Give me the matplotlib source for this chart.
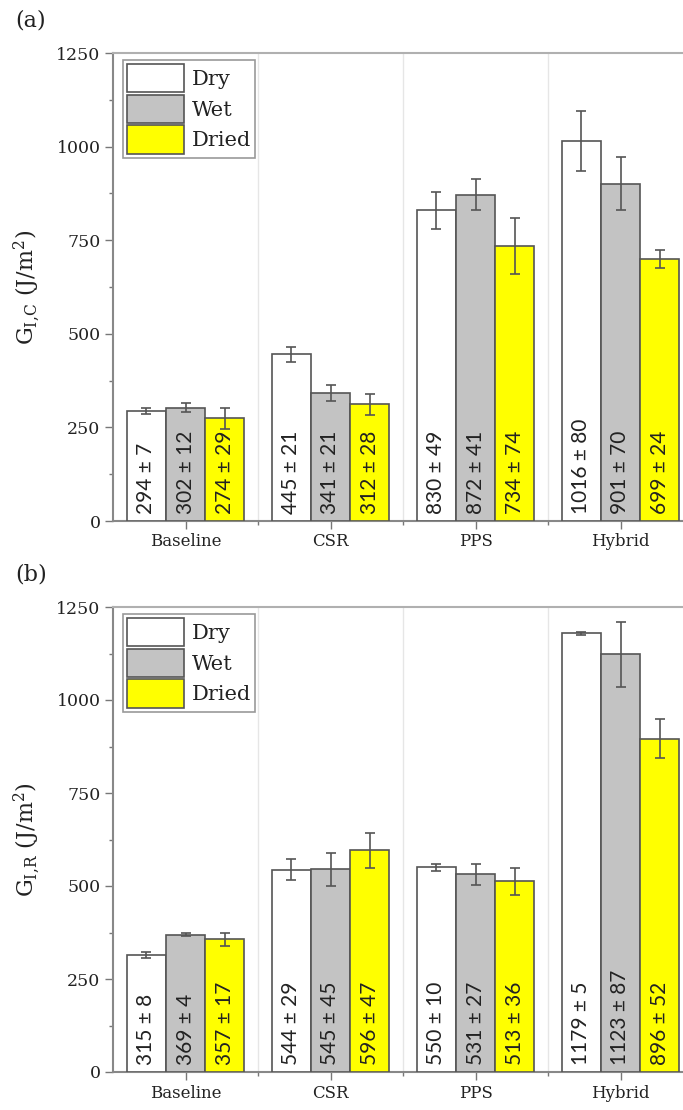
import matplotlib
matplotlib.use("Agg")
import matplotlib.pyplot as plt
import numpy as np
from matplotlib.patches import Patch

categories = ["Baseline", "CSR", "PPS", "Hybrid"]
conditions = ["Dry", "Wet", "Dried"]

gic_mean = {"Dry": [294, 445, 830, 1016], "Wet": [302, 341, 872, 901], "Dried": [274, 312, 734, 699]}
gic_err = {"Dry": [7, 21, 49, 80], "Wet": [12, 21, 41, 70], "Dried": [29, 28, 74, 24]}

gir_mean = {"Dry": [315, 544, 550, 1179], "Wet": [369, 545, 531, 1123], "Dried": [357, 596, 513, 896]}
gir_err = {"Dry": [8, 29, 10, 5], "Wet": [4, 45, 27, 87], "Dried": [17, 47, 36, 52]}

yticks = [0, 250, 500, 750, 1000, 1250]

colors = {"Dry": "#ffffff", "Wet": "#c3c3c3", "Dried": "#ffff00"}

plt.rcParams['mathtext.fontset'] = 'dejavuserif'
serif = "DejaVu Serif"
sans = "Lato"

W, H = 683, 1110
fig = plt.figure(figsize=(W / 100, H / 100), dpi=100)

def px(l, t, r, b):
    return [l / W, 1 - b / H, (r - l) / W, (b - t) / H]

panels = [
    (px(113, 53, 683, 521), gic_mean, gic_err, r"G$_{\mathrm{I,\!C}}$ (J/m$^2$)", "(a)", 20),
    (px(113, 607, 683, 1072), gir_mean, gir_err, r"G$_{\mathrm{I,\!R}}$ (J/m$^2$)", "(b)", 575),
]

bw = 0.27
x = np.arange(len(categories))

for pos, means, errs, ylab, tag, tag_y in panels:
    ax = fig.add_axes(pos)
    for k, cond in enumerate(conditions):
        xs = x + (k - 1) * bw
        ax.bar(xs, means[cond], width=bw, color=colors[cond], edgecolor="#555555",
               linewidth=1.2, zorder=3)
        ax.errorbar(xs, means[cond], yerr=errs[cond], fmt="none", ecolor="#555555",
                    elinewidth=1.2, capsize=3.5, capthick=1.2, zorder=4)
        for xi, m, e in zip(xs, means[cond], errs[cond]):
            ax.annotate(f"{m} \u00b1 {e}", xy=(xi, 0), xytext=(0, 5), textcoords="offset points",
                        rotation=90, ha="center", va="bottom", fontsize=15,
                        family=sans, color="#222222", zorder=5)
    ax.set_xlim(-0.5, -0.5 + 570 / 145)
    ax.set_ylim(0, 1250)
    ax.set_yticks(yticks)
    ax.set_yticks(np.arange(125, 1250, 250), minor=True)
    ax.set_xticks(x)
    ax.set_xticks(x[:-1] + 0.5, minor=True)
    ax.set_xticklabels(categories, family=serif, fontsize=12, color="#222222")
    for lbl in ax.get_yticklabels():
        lbl.set_family(serif)
        lbl.set_fontsize(12.5)
        lbl.set_color("#222222")
    ax.tick_params(axis="both", which="major", direction="out", length=6, width=1, color="#777777", pad=3)
    ax.tick_params(axis="both", which="minor", direction="out", length=3, width=1, color="#777777")
    ax.grid(True, which="minor", axis="x", color="#e6e6e6", linewidth=1, zorder=0)
    for s in ["left", "bottom"]:
        ax.spines[s].set_color("#888888")
        ax.spines[s].set_linewidth(1.5)
    ax.spines["top"].set_color("#b0b0b0")
    ax.spines["top"].set_linewidth(1.5)
    ax.spines["right"].set_visible(False)
    ax.set_ylabel(ylab, family=serif, fontsize=16, color="#222222")
    ax.yaxis.set_label_coords(-0.122, 0.5)

    handles = [Patch(facecolor=colors[c], edgecolor="#555555", linewidth=1.2) for c in conditions]
    leg = ax.legend(handles, conditions, loc="upper left", bbox_to_anchor=(0.0175, 0.985),
                    borderaxespad=0, fancybox=False, edgecolor="#999999", framealpha=1,
                    prop={"family": serif, "size": 15}, handlelength=2.75, handleheight=1.7,
                    labelspacing=0.12, handletextpad=0.35, borderpad=0.2)
    leg.get_frame().set_linewidth(1.2)
    for t in leg.get_texts():
        t.set_color("#222222")

    fig.text(15 / W, 1 - tag_y / H, tag, family=serif, fontsize=16, color="#222222",
             ha="left", va="center")

fig.savefig("out.png", dpi=100)
